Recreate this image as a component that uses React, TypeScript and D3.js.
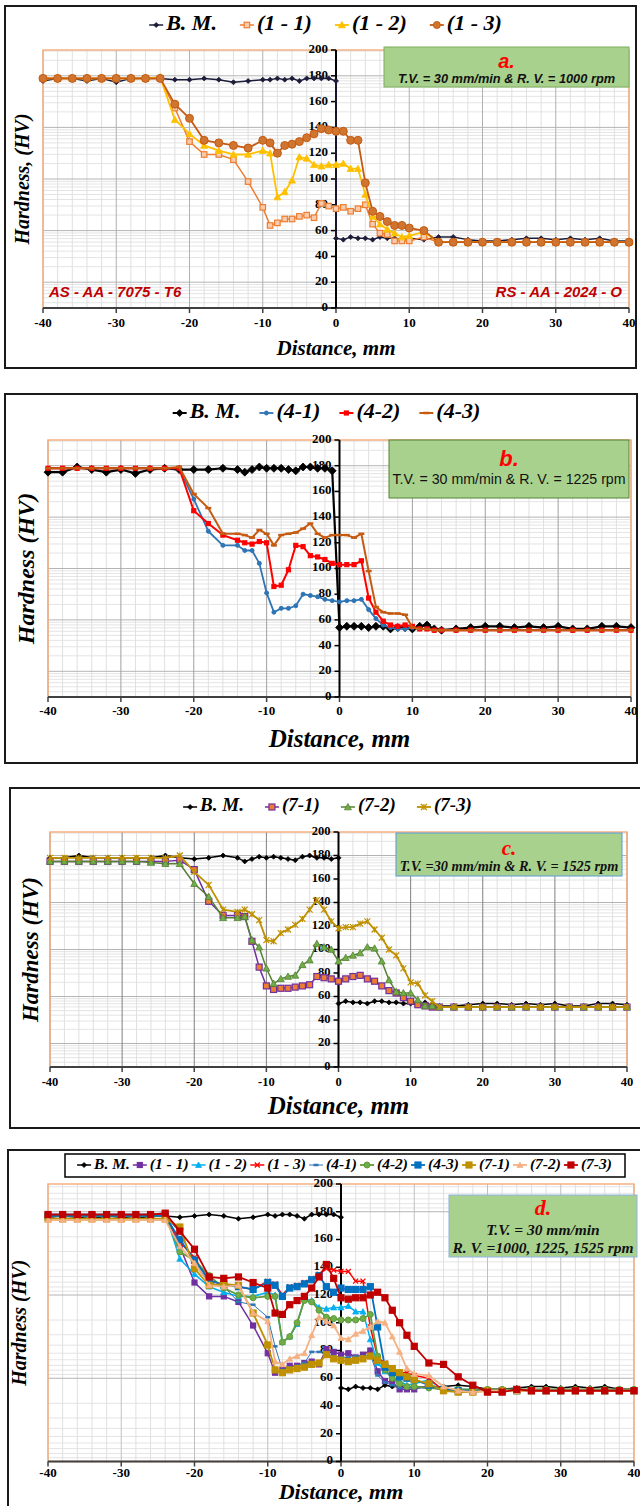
import * as d3 from 'd3';

const SERIF = '"Liberation Serif","Times New Roman",serif';
const SANS = '"Liberation Sans",Arial,sans-serif';

// ---- distances (mm) ----
const distA = [-40,-38,-36,-34,-32,-30,-28,-26,-24,-22,-20,-18,-16,-14,-12,-10,-9,-8,-7,-6,-5,-4,-3,-2,-1,0,1,2,3,4,5,6,7,8,9,10,12,14,16,18,20,22,24,26,28,30,32,34,36,38,40];
const distB = [-40,-38,-36,-34,-32,-30,-28,-26,-24,-22,-20,-18,-16,-14,-13,-12,-11,-10,-9,-8,-7,-6,-5,-4,-3,-2,-1,0,1,2,3,4,5,6,7,8,9,10,11,12,13,14,16,18,20,22,24,26,28,30,32,34,36,38,40];
const bmDistLeftA = [-40,-38,-36,-34,-32,-30,-28,-26,-24,-22,-20,-18,-16,-14,-12,-10,-9,-8,-7,-6,-5,-4,-3,-2,-1,0];
const bmDistRightA = [0,1,2,3,4,5,6,7,8,9,10,12,14,16,18,20,22,24,26,28,30,32,34,36,38,40];
const bmDistLeftB = [-40,-38,-36,-34,-32,-30,-28,-26,-24,-22,-20,-18,-16,-14,-13,-12,-11,-10,-9,-8,-7,-6,-5,-4,-3,-2,-1];
const bmDistLeftC = [-40,-38,-36,-34,-32,-30,-28,-26,-24,-22,-20,-18,-16,-14,-13,-12,-11,-10,-9,-8,-7,-6,-5,-4,-3,-2,-1,0];
const bmDistRightB = [0,1,2,3,4,5,6,7,8,9,10,11,12,13,14,16,18,20,22,24,26,28,30,32,34,36,38,40];

// ---- panel a: 1000 rpm ----
const bmLeftA = [176,178,178,176,178,175,178,178,178,177,177,178,177,175,176,177,177,178,177,178,176,178,178,178,178,176];
const bmRightA = [54,53,55,54,54,53,55,54,54,53,54,53,55,55,53,52,52,53,54,54,53,54,53,54,52,52];
const s11 = [178,178,178,178,178,178,178,178,178,155,129,119,119,115,98,78,64,66,69,69,71,72,70,81,79,77,78,75,77,80,65,58,57,52,52,52,55,51,51,51,51,51,51,51,51,51,51,51,51,51,51];
const s12 = [178,178,178,178,178,178,178,178,179,146,135,126,122,119,119,122,120,86,90,99,117,116,111,110,111,111,112,108,108,88,71,65,61,58,55,56,59,51,51,51,51,51,51,51,51,51,51,51,51,51,51];
const s13 = [178,178,178,178,178,178,178,178,178,158,147,130,128,126,124,130,128,120,126,127,129,132,135,139,138,137,137,130,130,97,75,71,67,64,64,62,60,51,51,51,51,51,51,51,51,51,51,51,51,51,51];

// ---- panel b: 1225 rpm ----
const bmLeftB = [175,175,179,177,175,177,174,177,178,177,177,177,178,177,175,177,179,178,178,178,177,176,179,179,178,178,176];
const bmRightB = [54,55,55,55,54,55,55,53,54,54,53,55,56,53,52,53,54,55,55,54,55,54,55,53,53,55,55,54];
const s41 = [178,178,178,178,178,178,178,178,178,178,154,129,118,118,114,114,104,81,66,69,69,71,80,79,78,76,75,74,75,75,76,68,61,56,54,53,53,54,53,53,52,52,52,52,52,52,52,52,52,52,52,52,52,52,52];
const s42 = [178,178,178,178,178,178,178,178,178,178,145,135,126,122,120,119,121,120,86,87,99,118,117,110,109,107,104,103,103,103,106,77,66,59,56,55,56,55,53,53,52,52,52,52,52,52,52,52,52,52,52,52,52,52,52];
const s43 = [178,178,178,178,178,178,178,178,178,179,158,147,127,127,126,124,130,127,118,126,127,128,131,135,127,124,126,126,126,124,127,98,70,66,65,65,64,54,53,53,52,52,52,52,52,52,52,52,52,52,52,52,52,52,52];

// ---- panel c: 1525 rpm ----
const bmLeftC = [178,178,180,178,178,178,178,178,180,178,177,178,180,178,175,177,179,178,179,178,177,176,179,180,178,178,177,178];
const bmRightC = [54,56,55,55,54,56,56,55,55,54,54,53,55,53,52,52,53,54,54,53,54,53,54,52,52,54,54,53];
const s71 = [175,175,175,175,175,175,175,175,175,176,168,141,129,129,128,107,85,69,66,67,67,68,69,70,77,76,75,73,75,77,78,75,73,69,65,63,59,56,53,52,51,51,51,51,51,51,51,51,51,51,51,51,51,51,51];
const s72 = [175,175,175,175,175,175,175,174,173,173,156,145,127,127,128,108,102,84,71,75,77,78,87,91,105,102,100,90,93,95,97,102,101,90,74,64,63,63,57,52,52,51,51,51,51,51,51,51,51,51,51,51,51,51,51];
const s73 = [178,178,178,178,178,178,178,178,178,180,166,155,134,132,134,130,125,108,107,114,117,121,126,134,142,134,124,118,119,119,122,124,117,110,100,95,84,72,71,61,56,51,51,51,51,51,51,51,51,51,51,51,51,51,51];

// ---- panel d: all welds ----
const bmLeftD = [176,177,176,175,177,176,175,177,177,176,177,178,177,175,176,178,177,178,178,177,175,178,178,178,178,176];
const bmRightD = [53,52,54,53,53,52,55,54,54,53,54,53,54,55,54,52,52,53,54,54,53,54,53,54,52,52];
const d41 = [177,177,177,177,177,177,177,177,177,165,143,129,126,115,113,104,83,66,68,69,71,79,79,77,76,75,75,76,76,77,62,57,55,53,53,53,53,52,52,52,52,52,52,52,52,52,52,52,52,52,52];
const d42 = [177,177,177,177,177,177,177,177,177,151,145,134,125,120,118,119,119,86,90,100,116,115,109,104,103,102,102,102,103,106,76,66,60,56,54,54,53,52,52,52,52,52,52,52,52,52,52,52,52,52,52];
const d43 = [177,177,177,177,177,177,177,177,177,160,145,131,127,126,124,129,127,119,125,126,128,131,134,126,122,125,124,124,124,126,97,68,64,61,60,59,55,52,51,51,51,51,51,51,51,51,51,51,51,51,51];
const d71 = [175,175,175,175,175,175,175,175,175,169,139,127,128,127,107,84,66,64,66,67,68,70,71,77,74,73,72,73,74,76,73,70,67,64,61,59,56,51,50,50,51,51,51,51,51,51,51,51,51,51,51];
const d72 = [174,174,174,174,174,174,174,174,174,155,143,127,126,127,107,101,72,70,74,76,78,91,104,101,98,89,88,92,94,97,101,100,90,79,67,63,62,54,51,50,51,51,51,51,51,51,51,51,51,51,51];
const d73 = [178,178,178,178,178,178,178,178,179,166,153,133,132,133,129,125,107,106,113,116,119,125,133,142,132,118,117,118,118,120,122,118,109,100,91,83,71,70,61,55,50,50,52,51,51,51,51,51,51,51,51];

const yTicks = [0, 20, 40, 60, 80, 100, 120, 140, 160, 180, 200];
const xTicks = [-40, -30, -20, -10, 0, 10, 20, 30, 40];

type MarkerType = 'diamond' | 'square' | 'triangle' | 'circle' | 'dash' | 'cross' | 'star';
interface Series {
  name: string;
  dist: number[];
  values: number[];
  color: string;
  fill?: string;
  marker: MarkerType;
  size: number;
  width: number;
}

const ctx = document.createElement('canvas').getContext('2d') as CanvasRenderingContext2D;
function textWidth(t: string, font: string) {
  ctx.font = font;
  return ctx.measureText(t).width;
}

function Marker({ type, x, y, size, color, fill }: any) {
  const h = size / 2;
  const f = fill || color;
  if (type === 'diamond')
    return <polygon points={`${x},${y - h} ${x + h},${y} ${x},${y + h} ${x - h},${y}`} fill={f} stroke={color} strokeWidth={0.8} />;
  if (type === 'square')
    return <rect x={x - h} y={y - h} width={size} height={size} fill={f} stroke={color} strokeWidth={1.2} />;
  if (type === 'triangle')
    return <polygon points={`${x},${y - h} ${x + h},${y + h * 0.8} ${x - h},${y + h * 0.8}`} fill={f} stroke={color} strokeWidth={0.8} />;
  if (type === 'circle')
    return <circle cx={x} cy={y} r={h} fill={f} stroke={color} strokeWidth={1} />;
  if (type === 'dash')
    return <line x1={x - h} x2={x + h} y1={y} y2={y} stroke={color} strokeWidth={2.5} />;
  if (type === 'cross')
    return (
      <g stroke={color} strokeWidth={1.3}>
        <line x1={x - h} x2={x + h} y1={y - h} y2={y + h} />
        <line x1={x - h} x2={x + h} y1={y + h} y2={y - h} />
      </g>
    );
  return (
    <g stroke={color} strokeWidth={1.2}>
      <line x1={x - h} x2={x + h} y1={y - h} y2={y + h} />
      <line x1={x - h} x2={x + h} y1={y + h} y2={y - h} />
      <line x1={x} x2={x} y1={y - h} y2={y + h} />
    </g>
  );
}

function Panel({ cfg, series }: { cfg: any; series: Series[] }) {
  const [l, r, t, b] = cfg.plot;
  const x = d3.scaleLinear().domain([-40, 40]).range([l, r]);
  const y = d3.scaleLinear().domain([0, 200]).range([b, t]);
  const line = d3.line<[number, number]>().x((d) => x(d[0])).y((d) => y(d[1]));

  // gridlines
  const vMinor = d3.range(-40, 41, 2).filter((v) => v % 10 !== 0);
  const vMajor = d3.range(-40, 41, 10);
  const band = cfg.band;
  const hMajor = d3.range(cfg.bandStart, 201, band).filter((v) => v > 0 && v < 200);
  const hMinor: number[] = [];
  d3.range(cfg.bandStart - band, 200, band).forEach((a) => {
    d3.range(2, 10).forEach((k) => {
      const off = cfg.reverse ? band * (1 - Math.log10(k)) : band * Math.log10(k);
      const v = a + off;
      if (v > 0 && v < 200) hMinor.push(v);
    });
  });

  // legend
  const lf = `italic bold ${cfg.legend.size}px ${SERIF}`;
  const items = series.map((s) => ({ s, w: 18 + textWidth(s.name, lf) }));
  const total = d3.sum(items, (d) => d.w) + cfg.legend.gap * (items.length - 1);
  let lx = cfg.legend.cx - total / 2;
  const legendItems = items.map((it) => {
    const x0 = lx;
    lx += it.w + cfg.legend.gap;
    return { ...it, x0 };
  });

  const [bx, by, bw, bh] = cfg.box;
  const note = cfg.note;

  return (
    <g>
      <rect x={bx} y={by} width={bw} height={bh} fill="#fff" stroke="#1a1a1a" strokeWidth={2} />
      {/* grid */}
      <g>
        {hMinor.map((v, i) => (
          <line key={'hm' + i} x1={l} x2={r} y1={y(v)} y2={y(v)} stroke="#e4e4e4" strokeWidth={1} />
        ))}
        {vMinor.map((v) => (
          <line key={'vm' + v} x1={x(v)} x2={x(v)} y1={t} y2={b} stroke="#e0e0e0" strokeWidth={1} />
        ))}
        {hMajor.map((v) => (
          <line key={'hM' + v} x1={l} x2={r} y1={y(v)} y2={y(v)} stroke="#b4b4b4" strokeWidth={1} />
        ))}
        {vMajor.map((v) => (
          <line key={'vM' + v} x1={x(v)} x2={x(v)} y1={t} y2={b} stroke={cfg.vMajorColor} strokeWidth={1} />
        ))}
      </g>
      <rect x={l} y={t} width={r - l} height={b - t} fill="none" stroke="#f4b183" strokeWidth={1.5} />

      {/* x axis */}
      <line x1={l} x2={r} y1={b} y2={b} stroke="#404040" strokeWidth={2} />
      {xTicks.map((v) => (
        <g key={'xt' + v}>
          <line x1={x(v)} x2={x(v)} y1={b} y2={b + 5} stroke="#404040" strokeWidth={1.5} />
          <text x={x(v)} y={b + cfg.xLabelDy} textAnchor="middle" dominantBaseline="middle"
            fontFamily={SERIF} fontWeight="bold" fontSize={cfg.tickSize} fill="#000">{v}</text>
        </g>
      ))}
      {/* y axis */}
      <line x1={x(0)} x2={x(0)} y1={t} y2={b} stroke="#000" strokeWidth={2} />
      {yTicks.map((v) => (
        <g key={'yt' + v}>
          <line x1={x(0) - 5} x2={x(0)} y1={y(v)} y2={y(v)} stroke="#000" strokeWidth={1.5} />
          <text x={x(0) - 8} y={y(v)} textAnchor="end" dominantBaseline="middle"
            fontFamily={SERIF} fontWeight="bold" fontSize={cfg.tickSize} fill="#000">{v}</text>
        </g>
      ))}

      {/* series */}
      {series.map((s) => {
        const pts = s.dist.map((d, i) => [d, s.values[i]] as [number, number]);
        return (
          <g key={s.name}>
            <path d={line(pts) || ''} fill="none" stroke={s.color} strokeWidth={s.width} strokeLinejoin="round" />
            {pts.map((p, i) => (
              <Marker key={i} type={s.marker} x={x(p[0])} y={y(p[1])} size={s.size} color={s.color} fill={s.fill} />
            ))}
          </g>
        );
      })}

      {/* note box */}
      <rect x={note.rect[0]} y={note.rect[1]} width={note.rect[2]} height={note.rect[3]}
        fill="#a9d18e" stroke={note.stroke} strokeWidth={1} />
      <text x={note.rect[0] + note.rect[2] / 2} y={note.letterY} textAnchor="middle" dominantBaseline="middle"
        fontFamily={note.letterFont} fontStyle="italic" fontWeight="bold" fontSize={note.letterSize} fill="#ff0000">{note.letter}</text>
      {note.lines.map((ln: any) => (
        <text key={ln.text} x={note.rect[0] + note.rect[2] / 2} y={ln.y} textAnchor="middle" dominantBaseline="middle"
          fontFamily={note.lineFont} fontStyle={note.lineStyle} fontWeight={note.lineWeight} fontSize={note.lineSize}
          fill="#111">{ln.text}</text>
      ))}

      {cfg.sides && cfg.sides.map((sd: any) => (
        <text key={sd.text} x={sd.x} y={sd.y} textAnchor={sd.anchor} dominantBaseline="middle"
          fontFamily={SANS} fontStyle="italic" fontWeight="bold" fontSize={15} fill="#c00000">{sd.text}</text>
      ))}

      {/* legend */}
      {cfg.legend.box && (
        <rect x={cfg.legend.box[0]} y={cfg.legend.box[1]} width={cfg.legend.box[2]} height={cfg.legend.box[3]}
          fill="#fff" stroke="#000" strokeWidth={1.5} />
      )}
      {legendItems.map(({ s, x0 }) => (
        <g key={'lg' + s.name}>
          <line x1={x0} x2={x0 + 14} y1={cfg.legend.y} y2={cfg.legend.y} stroke={s.color} strokeWidth={Math.min(s.width, 2)} />
          <Marker type={s.marker} x={x0 + 7} y={cfg.legend.y} size={Math.min(s.size, 7)} color={s.color} fill={s.fill} />
          <text x={x0 + 17} y={cfg.legend.y} dominantBaseline="middle" fontFamily={SERIF} fontStyle="italic"
            fontWeight="bold" fontSize={cfg.legend.size} fill="#000">{s.name}</text>
        </g>
      ))}

      {/* axis titles */}
      <text transform={`translate(${cfg.yTitle.x},${(t + b) / 2}) rotate(-90)`} textAnchor="middle" dominantBaseline="middle"
        fontFamily={SERIF} fontStyle="italic" fontWeight="bold" fontSize={cfg.yTitle.size} fill="#000">{cfg.yTitle.text}</text>
      <text x={x(0)} y={cfg.xTitle.y} textAnchor="middle" dominantBaseline="middle"
        fontFamily={SERIF} fontStyle="italic" fontWeight="bold" fontSize={cfg.xTitle.size} fill="#000">Distance, mm</text>
    </g>
  );
}

const bm = (left: number[], right: number[], dl: number[], dr: number[], color: string, size: number, width: number): Series => ({
  name: 'B. M.', dist: dl.concat(dr), values: left.concat(right), color, marker: 'diamond', size, width,
});

const seriesA: Series[] = [
  bm(bmLeftA, bmRightA, bmDistLeftA, bmDistRightA, '#1c1c3a', 5, 1.5),
  { name: '(1 - 1)', dist: distA, values: s11, color: '#ed7d31', fill: '#f8cbad', marker: 'square', size: 5.5, width: 1.5 },
  { name: '(1 - 2)', dist: distA, values: s12, color: '#ffc000', marker: 'triangle', size: 7, width: 1.8 },
  { name: '(1 - 3)', dist: distA, values: s13, color: '#c55a11', fill: '#d0752f', marker: 'circle', size: 8, width: 1.8 },
];
const seriesB: Series[] = [
  bm(bmLeftB, bmRightB, bmDistLeftB, bmDistRightB, '#000', 8, 2.2),
  { name: '(4-1)', dist: distB, values: s41, color: '#2e75b6', marker: 'circle', size: 4, width: 1.8 },
  { name: '(4-2)', dist: distB, values: s42, color: '#ff0000', marker: 'square', size: 4, width: 2 },
  { name: '(4-3)', dist: distB, values: s43, color: '#c55a11', marker: 'dash', size: 6, width: 2 },
];
const seriesC: Series[] = [
  bm(bmLeftC, bmRightC, bmDistLeftC, bmDistRightB, '#000', 5, 1.5),
  { name: '(7-1)', dist: distB, values: s71, color: '#7030a0', fill: '#ed7d31', marker: 'square', size: 6, width: 1.5 },
  { name: '(7-2)', dist: distB, values: s72, color: '#548235', fill: '#70ad47', marker: 'triangle', size: 7, width: 1.5 },
  { name: '(7-3)', dist: distB, values: s73, color: '#bf9000', marker: 'star', size: 6, width: 1.8 },
];
const seriesD: Series[] = [
  bm(bmLeftD, bmRightD, bmDistLeftA, bmDistRightA, '#000', 5, 1.5),
  { name: '(1 - 1)', dist: distA, values: s11, color: '#7030a0', marker: 'square', size: 5, width: 1.5 },
  { name: '(1 - 2)', dist: distA, values: s12, color: '#00b0f0', marker: 'triangle', size: 6, width: 1.5 },
  { name: '(1 - 3)', dist: distA, values: s13, color: '#ff0000', marker: 'cross', size: 5, width: 1.5 },
  { name: '(4-1)', dist: distA, values: d41, color: '#2e75b6', marker: 'dash', size: 5, width: 1 },
  { name: '(4-2)', dist: distA, values: d42, color: '#5e9c3c', fill: '#70ad47', marker: 'circle', size: 6, width: 1.8 },
  { name: '(4-3)', dist: distA, values: d43, color: '#0070c0', marker: 'square', size: 6, width: 1.8 },
  { name: '(7-1)', dist: distA, values: d71, color: '#bf9000', marker: 'square', size: 6, width: 1.8 },
  { name: '(7-2)', dist: distA, values: d72, color: '#f4b183', marker: 'triangle', size: 6, width: 1.8 },
  { name: '(7-3)', dist: distA, values: d73, color: '#c00000', marker: 'square', size: 6, width: 1.8 },
];

const cfgA = {
  box: [5, 6, 631, 362], plot: [43, 629, 50, 308], band: 40, bandStart: 20, vMajorColor: '#b0b0b0',
  tickSize: 13, xLabelDy: 16,
  legend: { y: 25, size: 22, gap: 22, cx: 326 },
  yTitle: { text: 'Hardness, (HV)', x: 24, size: 20 },
  xTitle: { y: 350, size: 21 },
  note: {
    rect: [384, 47, 245, 40], stroke: '#7fae5c', letter: 'a.', letterFont: SANS, letterSize: 20, letterY: 63,
    lines: [{ text: 'T.V. =  30 mm/min & R. V. = 1000 rpm', y: 80 }],
    lineFont: SANS, lineSize: 12.8, lineWeight: 'bold', lineStyle: 'italic',
  },
  sides: [
    { text: 'AS - AA - 7075 - T6', x: 49, y: 293, anchor: 'start' },
    { text: 'RS - AA - 2024 - O', x: 622, y: 293, anchor: 'end' },
  ],
};
const cfgB = {
  box: [5, 394, 632, 369], plot: [48, 631, 440, 697], band: 40, bandStart: 20, vMajorColor: '#a0a0a0',
  tickSize: 13, xLabelDy: 15,
  legend: { y: 413, size: 22, gap: 18, cx: 327 },
  yTitle: { text: 'Hardness (HV)', x: 28, size: 24 },
  xTitle: { y: 741, size: 25 },
  note: {
    rect: [389, 440, 240, 58], stroke: '#548235', letter: 'b.', letterFont: SANS, letterSize: 22, letterY: 460,
    lines: [{ text: 'T.V. = 30 mm/min & R. V. = 1225 rpm', y: 480 }],
    lineFont: SANS, lineSize: 14.2, lineWeight: 'normal', lineStyle: 'normal',
  },
};
const cfgC = {
  box: [10, 788, 632, 340], plot: [50, 627, 832, 1067], band: 40, bandStart: 20, vMajorColor: '#808080',
  tickSize: 12.5, xLabelDy: 16,
  legend: { y: 807, size: 19, gap: 20, cx: 328 },
  yTitle: { text: 'Hardness (HV)', x: 33, size: 23 },
  xTitle: { y: 1108, size: 25 },
  note: {
    rect: [396, 833, 226, 43], stroke: '#5b9bd5', letter: 'c.', letterFont: SERIF, letterSize: 21, letterY: 850,
    lines: [{ text: 'T.V. =30 mm/min & R. V. = 1525 rpm', y: 868 }],
    lineFont: SERIF, lineSize: 14.3, lineWeight: 'bold', lineStyle: 'italic',
  },
};
const cfgD = {
  box: [8, 1150, 634, 380], plot: [48, 634, 1184, 1461.5], band: 60, bandStart: 0, reverse: true, vMajorColor: '#c0c0c0',
  tickSize: 13, xLabelDy: 13,
  legend: { y: 1165, size: 15.5, gap: 2, cx: 345, box: [65, 1154, 560, 23] },
  yTitle: { text: 'Hardness (HV)', x: 21, size: 20 },
  xTitle: { y: 1494, size: 22 },
  note: {
    rect: [449, 1195, 188, 62], stroke: '#8db4e2', letter: 'd.', letterFont: SERIF, letterSize: 22, letterY: 1210,
    lines: [{ text: 'T.V. = 30 mm/min', y: 1231 }, { text: 'R. V. =1000, 1225, 1525 rpm', y: 1249 }],
    lineFont: SERIF, lineSize: 15.5, lineWeight: 'bold', lineStyle: 'italic',
  },
};

export default function App() {
  return (
    <svg width={640} height={1506} style={{ position: 'absolute', left: 0, top: 0, background: '#fff' }}>
      <rect width={640} height={1506} fill="#fff" />
      <Panel cfg={cfgA} series={seriesA} />
      <Panel cfg={cfgB} series={seriesB} />
      <Panel cfg={cfgC} series={seriesC} />
      <Panel cfg={cfgD} series={seriesD} />
    </svg>
  );
}
